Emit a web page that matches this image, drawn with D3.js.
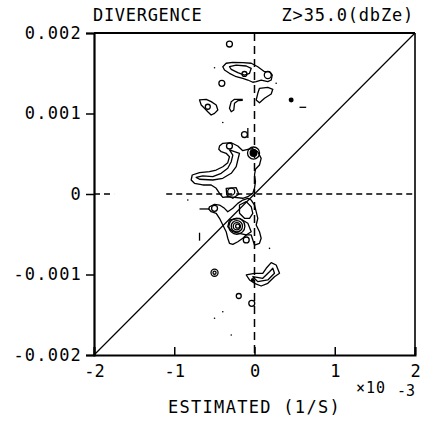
<!DOCTYPE html>
<html><head><meta charset="utf-8">
<script src="https://cdn.jsdelivr.net/npm/d3@7"></script>
<style>body{margin:0;background:#fff}svg{display:block}</style>
</head><body>
<svg id="c" width="426" height="421"></svg>
<script>
// values in units of 1e-3 (1/s)
const xTicks=[-2,-1,0,1,2];
const xTickLabels=["-2","-1","0","1","2"];
const yTicks=[2,1,0,-1,-2];
const yTickLabels=["0.002","0.001","0","-0.001","-0.002"];
const titleLeft="DIVERGENCE";
const titleRight="Z>35.0(dbZe)";
const xLabel="ESTIMATED (1/S)";
const xScaleMult="×10";
const xScaleExp="-3";

const diagonal=[[-2,-2],[2,2]];
const zeroV=[[0,2],[0,-2]];
const zeroH=[[[-2,0],[-1.75,0]],[[-1.1,0],[2,0]]];

const closedContours=[
 // upper blob outer
 [[-0.395,1.581],[-0.353,1.624],[-0.270,1.636],[-0.146,1.631],[-0.041,1.624],[0.041,1.581],[0.125,1.519],[0.187,1.519],[0.221,1.478],[0.208,1.416],[0.166,1.395],[0.083,1.416],[0.021,1.395],[-0.021,1.388],[-0.083,1.416],[-0.146,1.437],[-0.228,1.457],[-0.312,1.499],[-0.374,1.540]],
 // upper blob inner
 [[-0.312,1.581],[-0.228,1.602],[-0.103,1.590],[-0.041,1.561],[-0.062,1.499],[-0.125,1.478],[-0.208,1.507],[-0.290,1.549]],
 // left blob
 [[-0.685,1.168],[-0.602,1.176],[-0.540,1.147],[-0.477,1.106],[-0.457,1.043],[-0.498,1.002],[-0.540,0.981],[-0.582,1.022],[-0.623,1.065],[-0.664,1.106]],
 // right blob
 [[0.062,1.313],[0.166,1.325],[0.228,1.301],[0.208,1.242],[0.125,1.189],[0.062,1.134],[0.021,1.168],[0.041,1.251]],
 // middle blob outer
 [[-0.436,0.596],[-0.395,0.630],[-0.290,0.637],[-0.208,0.596],[-0.146,0.538],[-0.083,0.555],[-0.021,0.563],[0.041,0.525],[0.083,0.443],[0.062,0.360],[0.012,0.307],[0,0.236],[0.012,0.153],[0,0.071],[-0.021,0.009],[-0.083,-0.034],[-0.146,-0.053],[-0.249,-0.041],[-0.333,-0.034],[-0.395,-0.041],[-0.436,0.009],[-0.477,0.071],[-0.540,0.112],[-0.644,0.112],[-0.748,0.133],[-0.789,0.174],[-0.776,0.236],[-0.685,0.265],[-0.561,0.277],[-0.477,0.298],[-0.395,0.339],[-0.333,0.389],[-0.312,0.463],[-0.353,0.506],[-0.415,0.525],[-0.445,0.555]],
 // middle blob inner
 [[-0.312,0.547],[-0.249,0.525],[-0.187,0.506],[-0.208,0.422],[-0.228,0.339],[-0.290,0.257],[-0.395,0.195],[-0.520,0.174],[-0.685,0.183],[-0.727,0.207],[-0.644,0.224],[-0.520,0.215],[-0.415,0.257],[-0.333,0.319],[-0.290,0.401],[-0.270,0.484]],
 // small loop near origin
 [[-0.353,0.071],[-0.228,0.078],[-0.196,-0.004],[-0.270,-0.053],[-0.345,-0.012]],
 // lower blob outer
 [[-0.561,-0.158],[-0.498,-0.128],[-0.436,-0.137],[-0.374,-0.178],[-0.333,-0.220],[-0.270,-0.178],[-0.208,-0.116],[-0.146,-0.075],[-0.083,-0.053],[-0.041,-0.075],[0,-0.137],[0.021,-0.220],[0.041,-0.302],[0.021,-0.385],[0.062,-0.468],[0.083,-0.550],[0.062,-0.612],[0,-0.634],[-0.021,-0.571],[-0.041,-0.509],[-0.103,-0.509],[-0.146,-0.550],[-0.208,-0.593],[-0.270,-0.625],[-0.312,-0.612],[-0.333,-0.550],[-0.353,-0.468],[-0.395,-0.385],[-0.436,-0.302],[-0.477,-0.240],[-0.540,-0.220],[-0.570,-0.186]],
 // lower blob inner contours
 [[-0.187,-0.137],[-0.103,-0.095],[-0.041,-0.158],[-0.021,-0.240],[-0.062,-0.302],[-0.125,-0.302],[-0.187,-0.240]],
 [[-0.312,-0.323],[-0.187,-0.302],[-0.083,-0.364],[-0.041,-0.468],[-0.103,-0.509],[-0.187,-0.489],[-0.270,-0.468],[-0.333,-0.406]],
 // bottom right blob
 [[-0.103,-1.006],[0,-0.985],[0.103,-0.985],[0.146,-0.923],[0.208,-0.853],[0.270,-0.882],[0.312,-0.985],[0.249,-1.027],[0.166,-1.109],[0.083,-1.143],[0,-1.109],[-0.062,-1.068]],
 [[-0.021,-1.027],[0.103,-1.047],[0.187,-0.965],[0.228,-0.923],[0.249,-0.985],[0.166,-1.068],[0.041,-1.089]]
];
const openContours=[
 [[-0.146,1.176],[-0.249,1.176],[-0.290,1.147],[-0.312,1.065],[-0.290,1.022],[-0.258,1.043],[-0.249,1.127],[-0.208,1.159],[-0.146,1.164]],
 [[-0.083,0.820],[-0.083,0.696]],
 [[0.561,1.077],[0.644,1.077]],
 [[-0.685,-0.186],[-0.561,-0.186]],
 [[-0.685,-0.481],[-0.685,-0.580]]
];
// small closed rings: [x, y, radius]
const rings=[
 [-0.312,1.863,0.037],[-0.407,1.375,0.037],[-0.582,1.084,0.031],[-0.125,1.491,0.031],[0.166,1.478,0.044],
 [-0.125,0.739,0.037],[-0.312,0.596,0.037],[-0.012,0.509,0.075],[-0.290,0.029,0.044],[-0.498,-0.178,0.037],
 [-0.103,-0.571,0.037],[-0.498,-0.978,0.044],[-0.498,-0.978,0.019],[-0.196,-1.267,0.031],[-0.034,-1.358,0.037],
 [-0.22,-0.40,0.10],[-0.22,-0.40,0.07],[-0.22,-0.40,0.045],[-0.21,-0.40,0.025]
];
// filled spots: [x, y, radius]
const dots=[
 [-0.012,0.509,0.05],[0.457,1.168,0.031],[-0.021,-1.068,0.025],
 [-0.498,1.569,0.01],[0.270,1.375,0.01],[-0.395,0.888,0.01],[-0.831,-0.075,0.01],[0.187,-0.675,0.01],
 [-0.395,-1.462,0.01],[-0.498,-1.544,0.01],[-0.290,-1.752,0.01]
];

const svg=d3.select("#c");
const W=426,H=421;
const x=d3.scaleLinear().domain([-2,2]).range([94,415]);
const y=d3.scaleLinear().domain([-2,2]).range([355,33]);
const font="'DejaVu Sans Mono', monospace";
const rpx=r=>x(r)-x(0);
const line=d3.line().x(d=>x(d[0])).y(d=>y(d[1]));
const closed=d3.line().x(d=>x(d[0])).y(d=>y(d[1])).curve(d3.curveLinearClosed);

svg.append("rect").attr("width",W).attr("height",H).attr("fill","#fff");

// reference lines
svg.append("path").attr("d",line(diagonal)).attr("stroke","#000").attr("stroke-width",1.2).attr("fill","none");
svg.append("path").attr("d",line(zeroV)).attr("stroke","#000").attr("stroke-width",1.5).attr("stroke-dasharray","8,5").attr("fill","none");
zeroH.forEach(s=>svg.append("path").attr("d",line(s)).attr("stroke","#000").attr("stroke-width",1.5).attr("stroke-dasharray","6,4").attr("fill","none"));

// contours
const g=svg.append("g").attr("fill","none").attr("stroke","#000").attr("stroke-width",1.3).attr("stroke-linejoin","round");
g.selectAll("path.c").data(closedContours).join("path").attr("class","c").attr("d",closed);
g.selectAll("path.o").data(openContours).join("path").attr("class","o").attr("d",line);
g.selectAll("circle.r").data(rings).join("circle").attr("class","r")
 .attr("cx",d=>x(d[0])).attr("cy",d=>y(d[1])).attr("r",d=>rpx(d[2]));
svg.selectAll("circle.d").data(dots).join("circle").attr("class","d")
 .attr("cx",d=>x(d[0])).attr("cy",d=>y(d[1])).attr("r",d=>Math.max(0.8,rpx(d[2]))).attr("fill","#000");

// frame
svg.append("line").attr("x1",x(-2)).attr("x2",x(2)).attr("y1",y(2)).attr("y2",y(2)).attr("stroke","#000").attr("stroke-width",2);
svg.append("line").attr("x1",x(2)).attr("x2",x(2)).attr("y1",y(2)).attr("y2",y(-2)).attr("stroke","#000").attr("stroke-width",1.6);

// axes
const yAxis=d3.axisLeft(y).tickValues(yTicks).tickSize(8).tickPadding(4)
 .tickFormat((d,i)=>yTickLabels[i]);
const ya=svg.append("g").attr("transform",`translate(${x(-2)},0)`).call(yAxis);
ya.select(".domain").attr("stroke-width",2.2);
ya.selectAll(".tick line").attr("stroke-width",1.5);
ya.selectAll("text").attr("font-family",font).attr("font-size",17).attr("letter-spacing","1.2px").attr("fill","#000");

const xAxis=d3.axisBottom(x).tickValues(xTicks).tickSize(-8).tickPadding(10)
 .tickFormat((d,i)=>xTickLabels[i]);
const xa=svg.append("g").attr("transform",`translate(0,${y(-2)})`).call(xAxis);
xa.select(".domain").attr("stroke-width",2);
xa.selectAll(".tick line").attr("stroke-width",1.5);
xa.selectAll("text").attr("font-family",font).attr("font-size",17).attr("fill","#000");

// titles
svg.append("text").attr("x",93).attr("y",21).text(titleLeft)
 .attr("font-family",font).attr("font-size",17).attr("letter-spacing","0.7px");
svg.append("text").attr("x",414).attr("y",21).attr("text-anchor","end").text(titleRight)
 .attr("font-family",font).attr("font-size",17).attr("letter-spacing","0.8px");
svg.append("text").attr("x",x(0)).attr("y",413).attr("text-anchor","middle").text(xLabel)
 .attr("font-family",font).attr("font-size",17).attr("letter-spacing","1.3px");
svg.append("text").attr("x",356).attr("y",393).text(xScaleMult)
 .attr("font-family",font).attr("font-size",15).attr("letter-spacing","1px");
svg.append("text").attr("x",397).attr("y",396).text(xScaleExp)
 .attr("font-family",font).attr("font-size",15);
</script>
</body></html>
